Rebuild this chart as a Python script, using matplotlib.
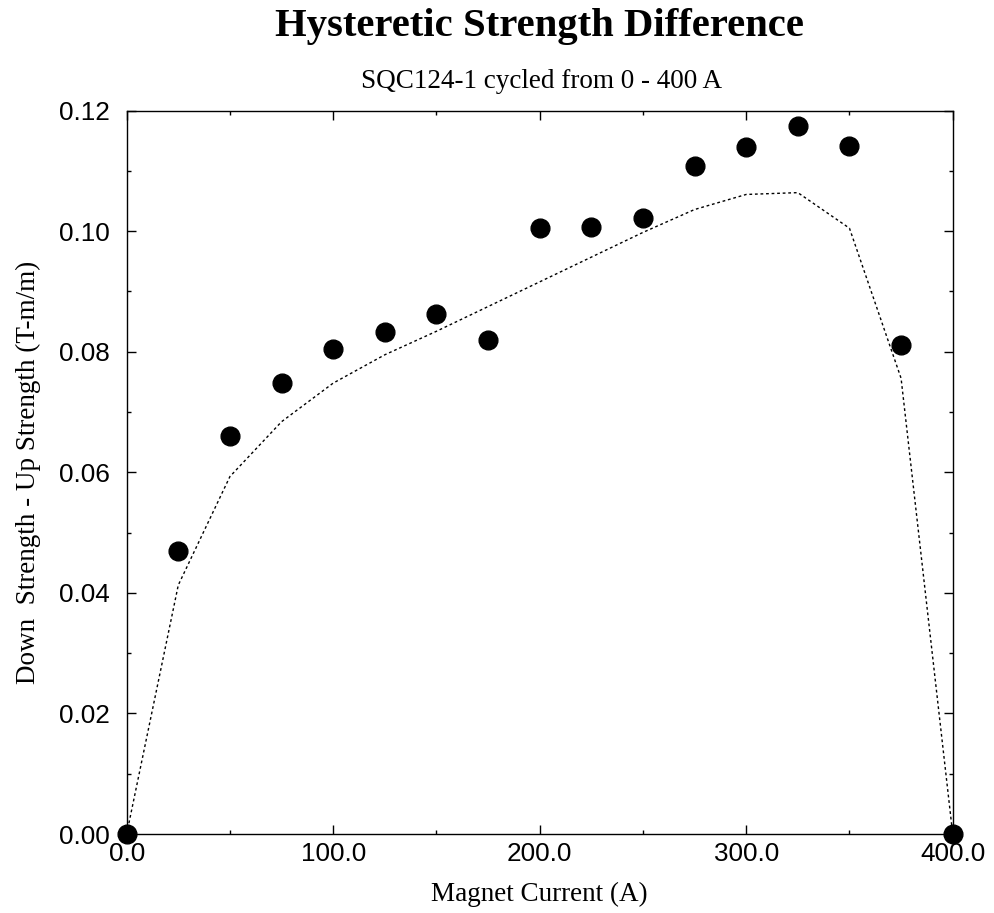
import matplotlib
matplotlib.use("Agg")
import matplotlib.pyplot as plt
from matplotlib.ticker import MultipleLocator, FormatStrFormatter

current = [0, 25, 50, 75, 100, 125, 150, 175, 200, 225, 250, 275, 300, 325, 350, 375, 400]
measured = [0.0, 0.0470, 0.0661, 0.0748, 0.0805, 0.0832, 0.0862, 0.0820, 0.1006, 0.1007,
            0.1022, 0.1109, 0.1140, 0.1175, 0.1141, 0.0811, 0.0]
model = [0.0, 0.0413, 0.0593, 0.0684, 0.0748, 0.0795, 0.0834, 0.0875, 0.0916, 0.0957,
         0.0998, 0.1036, 0.1061, 0.1064, 0.1005, 0.0756, 0.0]

title = "Hysteretic Strength Difference"
subtitle = "SQC124-1 cycled from 0 - 400 A"
xlabel = "Magnet Current (A)"
ylabel = "Down  Strength - Up Strength (T-m/m)"

fig = plt.figure(figsize=(9.95, 9.13), dpi=100)
ax = fig.add_axes([0.1273, 0.0865, 0.8302, 0.7923])

ax.plot(current, model, color="black", linestyle=(0, (2, 2)), linewidth=1.0, zorder=2)
ax.plot(current, measured, linestyle="none", marker="o", markersize=13.5,
        color="black", clip_on=False, zorder=3)

ax.set_xlim(0, 400)
ax.set_ylim(0, 0.12)
ax.xaxis.set_major_locator(MultipleLocator(100))
ax.xaxis.set_minor_locator(MultipleLocator(50))
ax.yaxis.set_major_locator(MultipleLocator(0.02))
ax.yaxis.set_minor_locator(MultipleLocator(0.01))
ax.xaxis.set_major_formatter(FormatStrFormatter("%.1f"))
ax.yaxis.set_major_formatter(FormatStrFormatter("%.2f"))

ax.tick_params(which="both", direction="in", top=True, right=True, width=1.0)
ax.tick_params(which="major", length=6.5, labelsize=18.8)
ax.tick_params(axis="x", which="major", pad=6)
ax.tick_params(axis="y", which="major", pad=12)
ax.tick_params(which="minor", length=3)
for lab in ax.get_xticklabels() + ax.get_yticklabels():
    lab.set_family("Liberation Sans")
for s in ax.spines.values():
    s.set_linewidth(1.0)

ax.set_xlabel(xlabel, family="Liberation Serif", fontsize=19.5, labelpad=11)
ax.set_ylabel(ylabel, family="Liberation Serif", fontsize=19.5, labelpad=13)

fig.text(0.5422, 1 - 36 / 913, title, family="Liberation Serif", fontweight="bold",
         fontsize=29.3, ha="center", va="baseline")
fig.text(0.544, 1 - 88.5 / 913, subtitle, family="Liberation Serif", fontsize=19.5,
         ha="center", va="baseline")

fig.savefig("out.png", dpi=100)
